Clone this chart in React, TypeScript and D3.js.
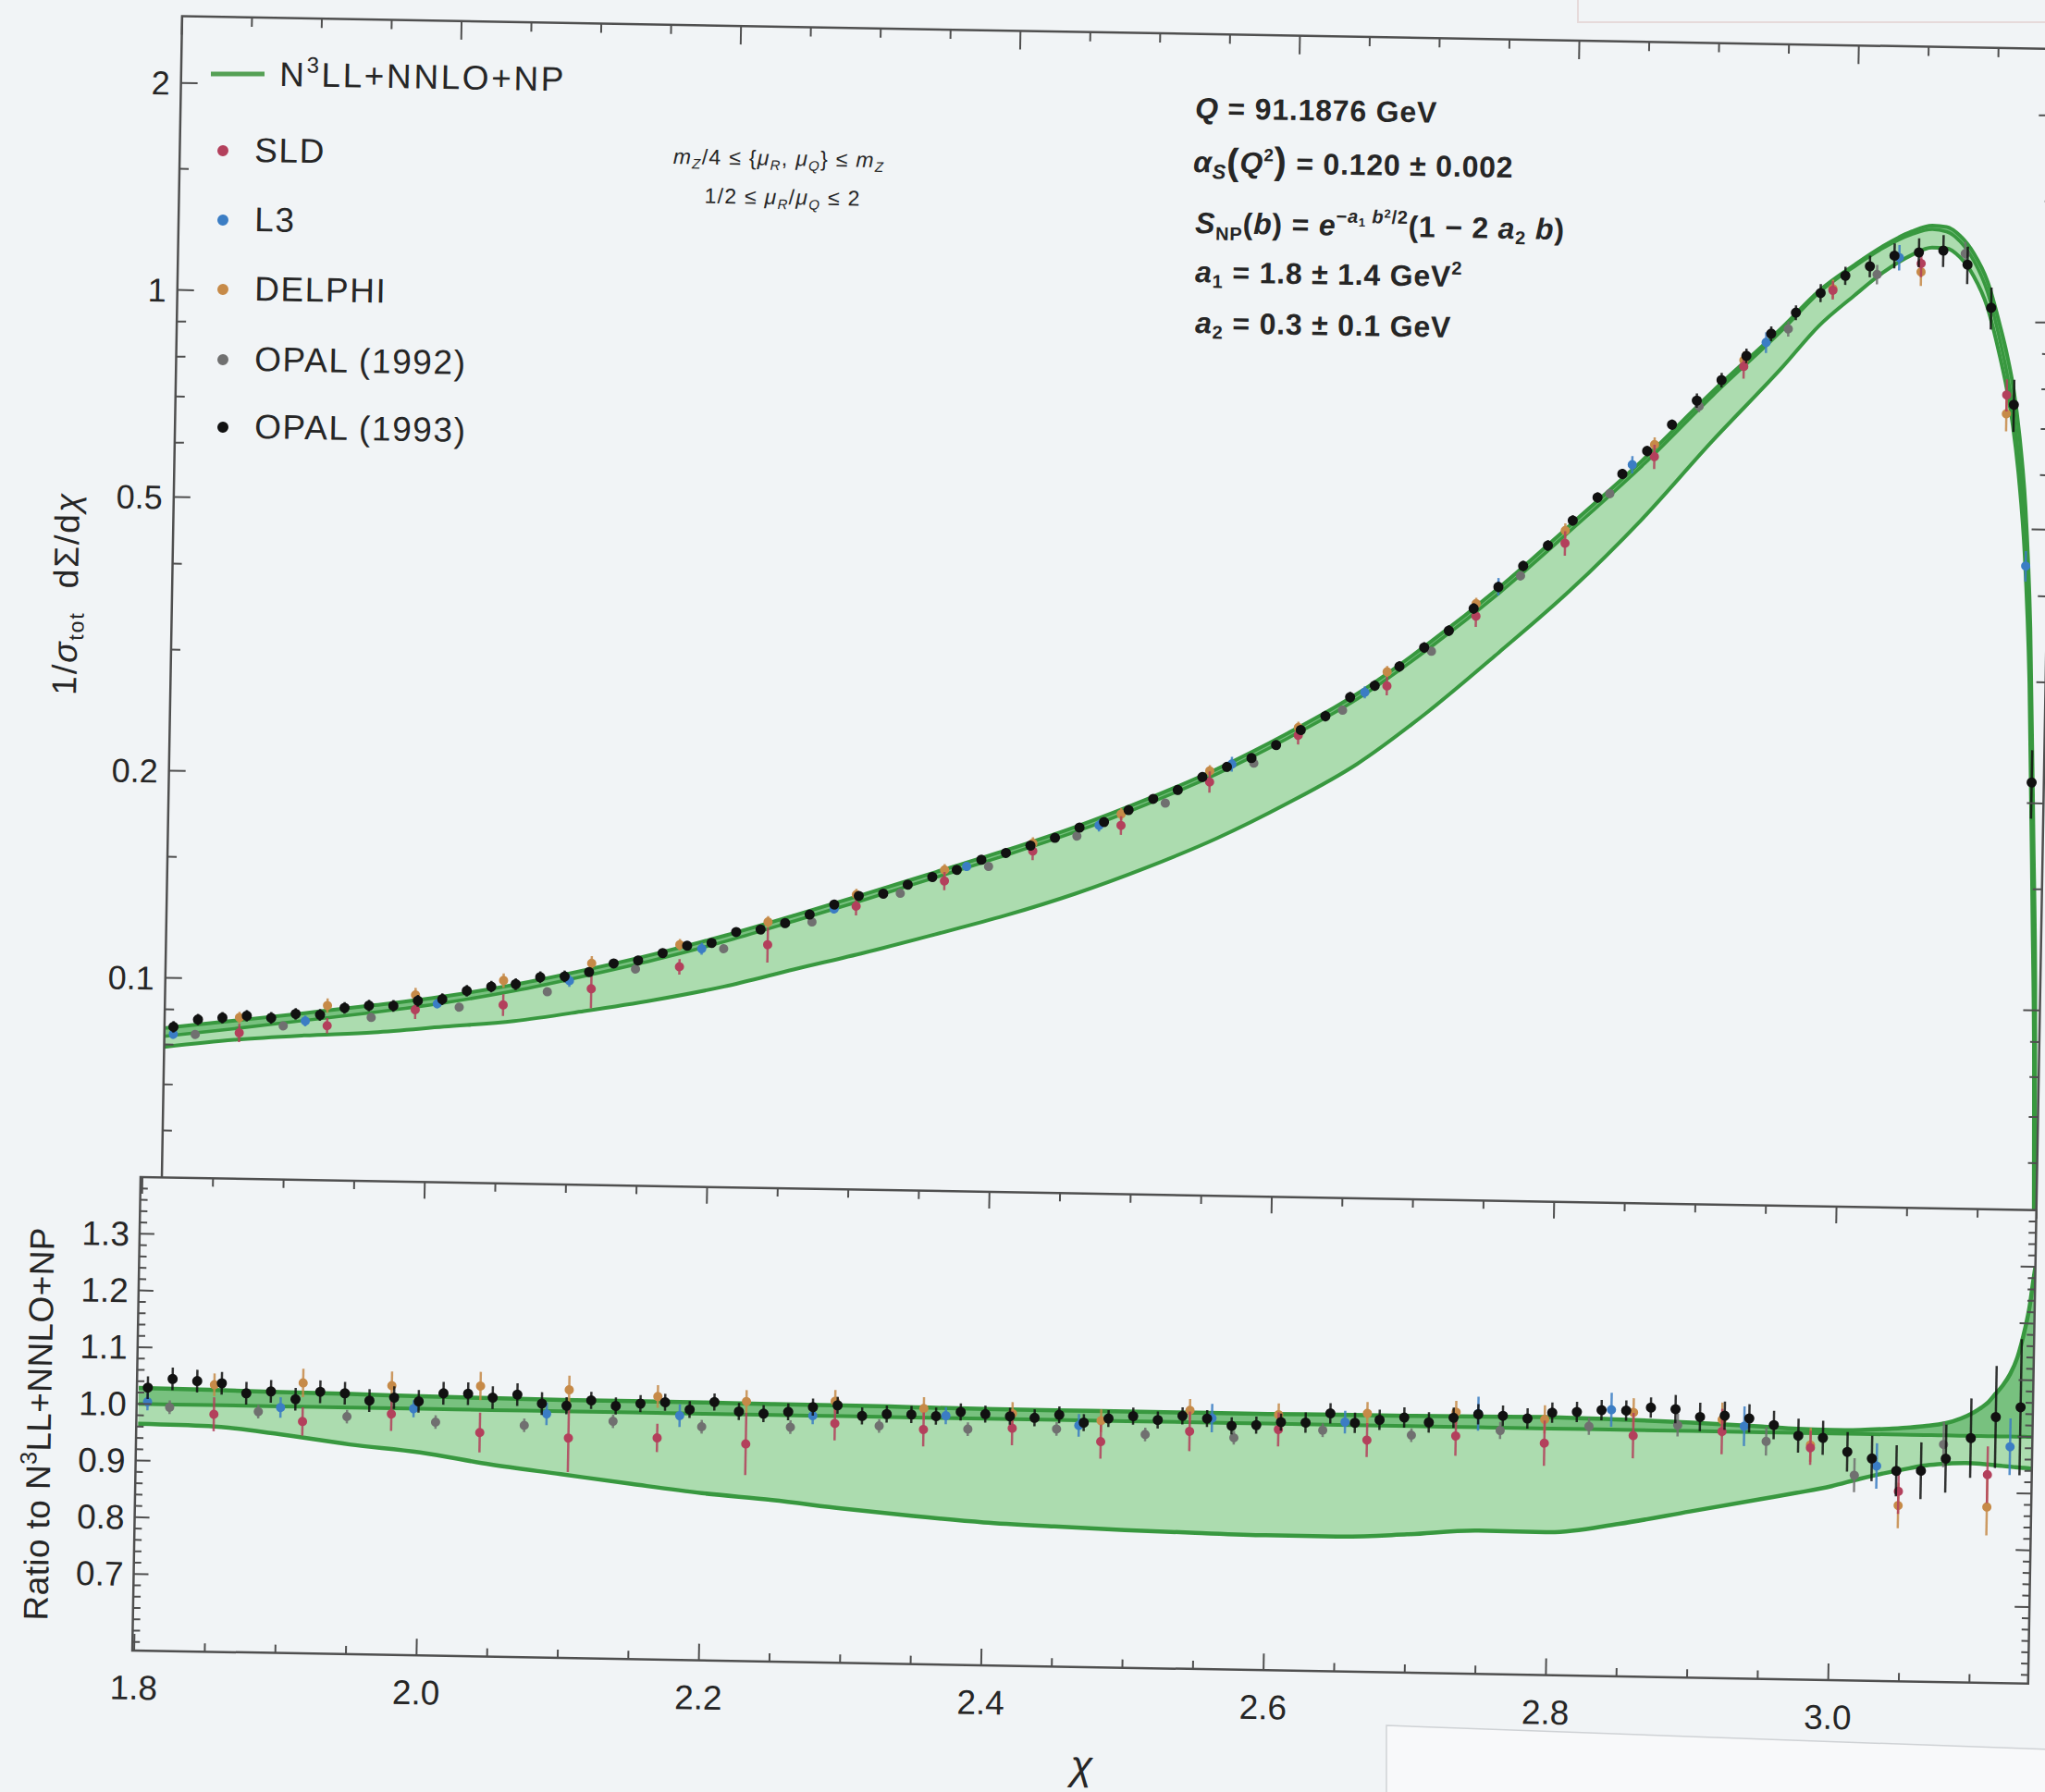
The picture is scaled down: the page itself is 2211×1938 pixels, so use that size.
import React from 'react';
import * as d3 from 'd3';

const W = 2211;
const H = 1938;
const BG = '#f1f4f6';
const INK = '#262626';
const FRAME = '#4f4f4f';
const GREEN_LINE = '#38983f';
const GREEN_FILL = '#acdcaf';
const GREEN_DARK = '#78c17f';
const FONT = '"Liberation Sans", Arial, Helvetica, sans-serif';

// the scanned page is tilted a little, everything is drawn straight then turned
const PIVOT_X = 152;
const PIVOT_Y = 1273;
const TILT = 1.0;

const TOP = { left: 175, right: 2202, top: 17, bottom: 1281 };
const BOT = { left: 152, right: 2202, top: 1273, bottom: 1785 };

// theory curve nodes (chi in rad)
const chiNodes = [1.80, 1.85, 1.90, 1.95, 2.00, 2.05, 2.10, 2.15, 2.20, 2.25, 2.30, 2.35, 2.40, 2.45, 2.50,
  2.55, 2.60, 2.65, 2.70, 2.75, 2.80, 2.85, 2.90, 2.95, 2.975, 3.00, 3.02, 3.04, 3.055, 3.065, 3.075,
  3.085, 3.095, 3.105, 3.11, 3.115, 3.12, 3.125, 3.13, 3.135, 3.138, 3.1405, 3.1416];

// central N3LL+NNLO+NP, 1/sigma dSigma/dchi
const centralTheory = [0.0822, 0.0847, 0.0874, 0.0902, 0.0935, 0.0977, 0.1031, 0.1093, 0.1167, 0.1256,
  0.1354, 0.1464, 0.1583, 0.1721, 0.1893, 0.2104, 0.2380, 0.2731, 0.3242, 0.3925, 0.4853, 0.6041,
  0.7685, 0.9653, 1.092, 1.194, 1.271, 1.332, 1.357, 1.348, 1.305, 1.224, 1.106, 0.933, 0.844,
  0.744, 0.624, 0.486, 0.316, 0.147, 0.089, 0.043, 0.030];

// band edges as ratio to the central curve
const ratioUpper = [1.028, 1.027, 1.025, 1.024, 1.022, 1.021, 1.020, 1.020, 1.020, 1.019, 1.019, 1.018,
  1.017, 1.017, 1.017, 1.017, 1.017, 1.018, 1.018, 1.019, 1.020, 1.018, 1.015, 1.010, 1.007, 1.006,
  1.007, 1.010, 1.013, 1.016, 1.019, 1.025, 1.035, 1.050, 1.060, 1.075, 1.090, 1.110, 1.140, 1.190,
  1.230, 1.280, 1.300];
const ratioLower = [0.965, 0.963, 0.951, 0.935, 0.923, 0.904, 0.889, 0.874, 0.860, 0.850, 0.837, 0.826,
  0.817, 0.812, 0.808, 0.805, 0.803, 0.803, 0.809, 0.818, 0.817, 0.834, 0.858, 0.882, 0.894, 0.907,
  0.921, 0.933, 0.941, 0.946, 0.949, 0.951, 0.952, 0.951, 0.950, 0.949, 0.948, 0.947, 0.946, 0.945,
  0.945, 0.944, 0.944];
const ratioCentral = 1.0;

// data, bin centres in degrees, values as ratio to central theory
const opal93Deg = [103.5, 104.5, 105.5, 106.5, 107.5, 108.5, 109.5, 110.5, 111.5, 112.5, 113.5, 114.5,
  115.5, 116.5, 117.5, 118.5, 119.5, 120.5, 121.5, 122.5, 123.5, 124.5, 125.5, 126.5, 127.5, 128.5,
  129.5, 130.5, 131.5, 132.5, 133.5, 134.5, 135.5, 136.5, 137.5, 138.5, 139.5, 140.5, 141.5, 142.5,
  143.5, 144.5, 145.5, 146.5, 147.5, 148.5, 149.5, 150.5, 151.5, 152.5, 153.5, 154.5, 155.5, 156.5,
  157.5, 158.5, 159.5, 160.5, 161.5, 162.5, 163.5, 164.5, 165.5, 166.5, 167.5, 168.5, 169.5, 170.5,
  171.5, 172.5, 173.5, 174.5, 175.5, 176.5, 177.5, 178.5, 179.5];
const opal93Ratio = [1.029, 1.045, 1.042, 1.039, 1.022, 1.026, 1.013, 1.027, 1.025, 1.013, 1.019, 1.013,
  1.028, 1.028, 1.022, 1.028, 1.013, 1.010, 1.020, 1.011, 1.016, 1.019, 1.007, 1.021, 1.005, 1.002,
  1.006, 1.015, 1.019, 1.001, 1.005, 1.005, 1.003, 1.011, 1.008, 1.005, 1.003, 1.009, 0.996, 1.004,
  1.009, 1.003, 1.011, 1.007, 0.995, 0.997, 1.003, 1.003, 1.020, 1.004, 1.010, 1.015, 1.007, 1.016,
  1.023, 1.021, 1.017, 1.028, 1.030, 1.034, 1.034, 1.040, 1.038, 1.025, 1.028, 1.024, 1.013, 0.995,
  0.992, 0.968, 0.957, 0.936, 0.937, 0.959, 0.996, 1.034, 1.052];
const opal93Err = [0.02, 0.02, 0.02, 0.02, 0.02, 0.02, 0.02, 0.02, 0.02, 0.02, 0.02, 0.02, 0.02, 0.02,
  0.02, 0.02, 0.02, 0.015, 0.015, 0.015, 0.015, 0.015, 0.015, 0.015, 0.015, 0.015, 0.015, 0.015, 0.015,
  0.015, 0.015, 0.015, 0.015, 0.015, 0.015, 0.015, 0.015, 0.015, 0.015, 0.015, 0.015, 0.015, 0.015,
  0.015, 0.015, 0.015, 0.015, 0.018, 0.018, 0.018, 0.018, 0.018, 0.018, 0.018, 0.018, 0.018, 0.018,
  0.018, 0.018, 0.018, 0.018, 0.018, 0.025, 0.025, 0.025, 0.025, 0.025, 0.03, 0.03, 0.035, 0.04,
  0.045, 0.05, 0.06, 0.07, 0.09, 0.12];

const opal92Deg = [104.4, 108.0, 111.6, 115.2, 118.8, 122.4, 126.0, 129.6, 133.2, 136.8, 140.4, 144.0,
  147.6, 151.2, 154.8, 158.4, 162.0, 165.6, 169.2, 172.8, 176.4];
const opal92Ratio = [0.995, 0.990, 0.984, 0.977, 0.974, 0.984, 0.977, 0.979, 0.984, 0.981, 0.984, 0.977,
  0.974, 0.990, 0.984, 0.995, 1.005, 1.010, 0.984, 0.927, 0.984];
const opal92Err = [0.012, 0.012, 0.012, 0.012, 0.012, 0.012, 0.012, 0.012, 0.012, 0.012, 0.012, 0.012,
  0.012, 0.012, 0.012, 0.015, 0.015, 0.02, 0.025, 0.03, 0.04];

const sldDeg = [106.2, 109.8, 113.4, 117.0, 120.6, 124.2, 127.8, 131.4, 135.0, 138.6, 142.2, 145.8,
  149.4, 153.0, 156.6, 160.2, 163.8, 167.4, 171.0, 174.6, 178.2];
const sldRatio = [0.984, 0.974, 0.990, 0.960, 0.953, 0.956, 0.948, 0.987, 0.979, 0.984, 0.963, 0.984,
  0.990, 0.974, 0.984, 0.974, 0.990, 1.000, 0.974, 0.900, 0.932];
const sldErr = [0.03, 0.025, 0.03, 0.035, 0.06, 0.025, 0.055, 0.03, 0.03, 0.03, 0.03, 0.035, 0.03, 0.03,
  0.035, 0.04, 0.04, 0.04, 0.03, 0.04, 0.05];

const delphiDeg = sldDeg;
const delphiRatio = [1.036, 1.042, 1.040, 1.042, 1.038, 1.029, 1.023, 1.026, 1.016, 1.010, 1.000, 1.021,
  1.016, 1.021, 1.026, 1.016, 1.031, 1.021, 0.979, 0.875, 0.875];
const delphiErr = [0.02, 0.025, 0.025, 0.025, 0.025, 0.02, 0.02, 0.02, 0.02, 0.02, 0.02, 0.02, 0.02, 0.02,
  0.02, 0.025, 0.025, 0.03, 0.03, 0.04, 0.05];

const l3Deg = [103.5, 108.9, 114.3, 119.7, 125.1, 130.5, 135.9, 141.3, 146.7, 152.1, 157.5, 162.9, 168.3,
  173.7, 179.1];
const l3Ratio = [1.004, 0.998, 1.000, 0.995, 0.996, 1.000, 1.004, 0.991, 1.008, 1.005, 1.024, 1.035, 1.010,
  0.944, 0.982];
const l3Err = [0.015, 0.018, 0.015, 0.02, 0.02, 0.015, 0.015, 0.02, 0.025, 0.02, 0.03, 0.03, 0.035, 0.04, 0.05];

const series = [
  { name: 'OPAL (1992)', color: '#707070', deg: opal92Deg, ratio: opal92Ratio, err: opal92Err, r: 5 },
  { name: 'L3', color: '#3b7dc4', deg: l3Deg, ratio: l3Ratio, err: l3Err, r: 5 },
  { name: 'DELPHI', color: '#c68a48', deg: delphiDeg, ratio: delphiRatio, err: delphiErr, r: 5 },
  { name: 'SLD', color: '#b3405c', deg: sldDeg, ratio: sldRatio, err: sldErr, r: 5 },
  { name: 'OPAL (1993)', color: '#111111', deg: opal93Deg, ratio: opal93Ratio, err: opal93Err, r: 5.5 },
];
const legendOrder = ['SLD', 'L3', 'DELPHI', 'OPAL (1992)', 'OPAL (1993)'];

const xMajor = [1.8, 2.0, 2.2, 2.4, 2.6, 2.8, 3.0];
const xMajorLabels = ['1.8', '2.0', '2.2', '2.4', '2.6', '2.8', '3.0'];
const topYMajor = [0.1, 0.2, 0.5, 1, 2];
const topYLabels = ['0.1', '0.2', '0.5', '1', '2'];
const topYMinor = [0.06, 0.07, 0.08, 0.09, 0.15, 0.3, 0.4, 0.6, 0.7, 0.8, 0.9, 1.5];
const ratioMajor = [0.7, 0.8, 0.9, 1.0, 1.1, 1.2, 1.3];
const ratioLabels = ['0.7', '0.8', '0.9', '1.0', '1.1', '1.2', '1.3'];

const tiltRad = (TILT * Math.PI) / 180;
const cosT = Math.cos(tiltRad);
const sinT = Math.sin(tiltRad);
// screen position -> position inside the tilted group
const unrot = (x: number, y: number): [number, number] => {
  const dx = x - PIVOT_X;
  const dy = y - PIVOT_Y;
  return [PIVOT_X + dx * cosT + dy * sinT, PIVOT_Y - dx * sinT + dy * cosT];
};
const rad = (d: number) => (d * Math.PI) / 180;

function centralAt(chi: number) {
  let i = d3.bisectRight(chiNodes, chi) - 1;
  i = Math.max(0, Math.min(chiNodes.length - 2, i));
  const t = (chi - chiNodes[i]) / (chiNodes[i + 1] - chiNodes[i]);
  return Math.exp(Math.log(centralTheory[i]) * (1 - t) + Math.log(centralTheory[i + 1]) * t);
}

function At({ x, y, children, ...rest }: any) {
  const [ux, uy] = unrot(x, y);
  return (
    <text x={ux} y={uy} fontFamily={FONT} fill={INK} {...rest}>
      {children}
    </text>
  );
}

export default function App() {
  const xTop = d3.scaleLinear().domain([1.8, Math.PI]).range([TOP.left, TOP.right]);
  const yTop = d3.scaleLog().domain([0.05, 2.5]).range([TOP.bottom, TOP.top]);
  const xBot = d3.scaleLinear().domain([1.8, Math.PI]).range([BOT.left + 2, BOT.right]);
  const yBot = d3.scaleLinear().domain([0.565, 1.4]).range([BOT.bottom, BOT.top]);

  const idx = d3.range(chiNodes.length);
  const topUp = (i: number) => yTop(centralTheory[i] * ratioUpper[i]);
  const topLo = (i: number) => yTop(centralTheory[i] * ratioLower[i]);
  const topMid = (i: number) => yTop(centralTheory[i] * ratioCentral);

  const topBand = d3.area<number>().x((i) => xTop(chiNodes[i])).y0(topLo).y1(topUp).curve(d3.curveMonotoneX)(idx);
  const topNarrow = d3.area<number>().x((i) => xTop(chiNodes[i])).y0(topMid).y1(topUp).curve(d3.curveMonotoneX)(idx);
  const topLine = (f: (i: number) => number) =>
    d3.line<number>().x((i) => xTop(chiNodes[i])).y(f).curve(d3.curveMonotoneX)(idx) || '';

  const rUp = (i: number) => yBot(ratioUpper[i]);
  const rLo = (i: number) => yBot(ratioLower[i]);
  const rMid = () => yBot(ratioCentral);
  const botBand = d3.area<number>().x((i) => xBot(chiNodes[i])).y0(rLo).y1(rUp).curve(d3.curveMonotoneX)(idx);
  const botNarrow = d3.area<number>().x((i) => xBot(chiNodes[i])).y0(rMid).y1(rUp).curve(d3.curveMonotoneX)(idx);
  const botLine = (f: (i: number) => number) =>
    d3.line<number>().x((i) => xBot(chiNodes[i])).y(f).curve(d3.curveMonotoneX)(idx) || '';

  const xMinor = d3.range(1.8, 3.13, 0.05).filter((v) => !xMajor.some((m) => Math.abs(m - v) < 1e-6));
  const ratioMinor = d3.range(0.58, 1.39, 0.02).filter((v) => !ratioMajor.some((m) => Math.abs(m - v) < 1e-6));

  const tickStyle = { stroke: FRAME, strokeWidth: 2 };

  return (
    <svg width={W} height={H} style={{ position: 'absolute', left: 0, top: 0, display: 'block' }}>
      <defs>
        <clipPath id="clipTop">
          <rect x={TOP.left} y={TOP.top} width={TOP.right - TOP.left} height={TOP.bottom - TOP.top} />
        </clipPath>
        <clipPath id="clipBot">
          <rect x={BOT.left} y={BOT.top} width={BOT.right - BOT.left} height={BOT.bottom - BOT.top} />
        </clipPath>
      </defs>
      <rect x={0} y={0} width={W} height={H} fill={BG} />
      {/* faint paper edges from the scan */}
      <rect x={1706} y={-2} width={520} height={26} fill="none" stroke="#e6dada" strokeWidth={2} />
      <polygon points="1499,1866 2215,1892 2215,1942 1499,1942" fill="#f8f9fa" stroke="#cfd2d5" strokeWidth={1.5} />

      <g transform={`rotate(${TILT} ${PIVOT_X} ${PIVOT_Y})`}>
        {/* upper panel */}
        <g clipPath="url(#clipTop)">
          <path d={topBand || ''} fill={GREEN_FILL} />
          <path d={topNarrow || ''} fill={GREEN_DARK} />
          <path d={topLine(topUp)} fill="none" stroke={GREEN_LINE} strokeWidth={4} />
          <path d={topLine(topMid)} fill="none" stroke={GREEN_LINE} strokeWidth={3.5} />
          <path d={topLine(topLo)} fill="none" stroke={GREEN_LINE} strokeWidth={4} />
          {series.map((s) => (
            <g key={'t' + s.name}>
              {s.deg.map((d, k) => {
                const chi = rad(d);
                const c = centralAt(chi);
                const x = xTop(chi);
                return (
                  <g key={k}>
                    <line x1={x} x2={x} y1={yTop((s.ratio[k] - s.err[k]) * c)} y2={yTop((s.ratio[k] + s.err[k]) * c)}
                      stroke={s.color} strokeWidth={2.5} opacity={0.85} />
                    <circle cx={x} cy={yTop(s.ratio[k] * c)} r={s.r} fill={s.color} />
                  </g>
                );
              })}
            </g>
          ))}
        </g>
        <rect x={TOP.left} y={TOP.top} width={TOP.right - TOP.left} height={TOP.bottom - TOP.top}
          fill="none" stroke={FRAME} strokeWidth={2.5} />
        {xMajor.map((v) => (
          <line key={'txM' + v} x1={xTop(v)} x2={xTop(v)} y1={TOP.top} y2={TOP.top + 20} {...tickStyle} />
        ))}
        {xMinor.map((v) => (
          <line key={'txm' + v} x1={xTop(v)} x2={xTop(v)} y1={TOP.top} y2={TOP.top + 10} {...tickStyle} />
        ))}
        {topYMajor.map((v, i) => (
          <g key={'tyM' + v}>
            <line x1={TOP.left} x2={TOP.left + 18} y1={yTop(v)} y2={yTop(v)} {...tickStyle} />
            <line x1={TOP.right} x2={TOP.right - 18} y1={yTop(v)} y2={yTop(v)} {...tickStyle} />
            <text x={TOP.left - 12} y={yTop(v) + 13} textAnchor="end" fontFamily={FONT} fontSize={36} fill={INK}>
              {topYLabels[i]}
            </text>
          </g>
        ))}
        {topYMinor.map((v) => (
          <g key={'tym' + v}>
            <line x1={TOP.left} x2={TOP.left + 10} y1={yTop(v)} y2={yTop(v)} {...tickStyle} />
            <line x1={TOP.right} x2={TOP.right - 10} y1={yTop(v)} y2={yTop(v)} {...tickStyle} />
          </g>
        ))}

        {/* ratio panel */}
        <rect x={BOT.left} y={BOT.top} width={BOT.right - BOT.left} height={BOT.bottom - BOT.top} fill={BG} />
        <g clipPath="url(#clipBot)">
          <path d={botBand || ''} fill={GREEN_FILL} />
          <path d={botNarrow || ''} fill={GREEN_DARK} />
          <path d={botLine(rUp)} fill="none" stroke={GREEN_LINE} strokeWidth={4.5} />
          <path d={botLine(rMid)} fill="none" stroke={GREEN_LINE} strokeWidth={4} />
          <path d={botLine(rLo)} fill="none" stroke={GREEN_LINE} strokeWidth={4.5} />
          {series.map((s) => (
            <g key={'b' + s.name}>
              {s.deg.map((d, k) => {
                const x = xBot(rad(d));
                return (
                  <g key={k}>
                    <line x1={x} x2={x} y1={yBot(s.ratio[k] - s.err[k])} y2={yBot(s.ratio[k] + s.err[k])}
                      stroke={s.color} strokeWidth={2.5} opacity={0.85} />
                    <circle cx={x} cy={yBot(s.ratio[k])} r={s.r} fill={s.color} />
                  </g>
                );
              })}
            </g>
          ))}
        </g>
        <rect x={BOT.left} y={BOT.top} width={BOT.right - BOT.left} height={BOT.bottom - BOT.top}
          fill="none" stroke={FRAME} strokeWidth={2.5} />
        {xMajor.map((v, i) => (
          <g key={'bxM' + v}>
            <line x1={xBot(v)} x2={xBot(v)} y1={BOT.top} y2={BOT.top + 18} {...tickStyle} />
            <line x1={xBot(v)} x2={xBot(v)} y1={BOT.bottom} y2={BOT.bottom - 18} {...tickStyle} />
            <text x={xBot(v)} y={BOT.bottom + 53} textAnchor="middle" fontFamily={FONT} fontSize={37} fill={INK}>
              {xMajorLabels[i]}
            </text>
          </g>
        ))}
        {xMinor.map((v) => (
          <g key={'bxm' + v}>
            <line x1={xBot(v)} x2={xBot(v)} y1={BOT.top} y2={BOT.top + 9} {...tickStyle} />
            <line x1={xBot(v)} x2={xBot(v)} y1={BOT.bottom} y2={BOT.bottom - 9} {...tickStyle} />
          </g>
        ))}
        {ratioMajor.map((v, i) => (
          <g key={'byM' + v}>
            <line x1={BOT.left} x2={BOT.left + 16} y1={yBot(v)} y2={yBot(v)} {...tickStyle} />
            <line x1={BOT.right} x2={BOT.right - 16} y1={yBot(v)} y2={yBot(v)} {...tickStyle} />
            <text x={BOT.left - 11} y={yBot(v) + 13} textAnchor="end" fontFamily={FONT} fontSize={37} fill={INK}>
              {ratioLabels[i]}
            </text>
          </g>
        ))}
        {ratioMinor.map((v) => (
          <g key={'bym' + v}>
            <line x1={BOT.left} x2={BOT.left + 8} y1={yBot(v)} y2={yBot(v)} {...tickStyle} />
            <line x1={BOT.right} x2={BOT.right - 8} y1={yBot(v)} y2={yBot(v)} {...tickStyle} />
          </g>
        ))}

        {/* legend */}
        {(() => {
          const [a1, b1] = unrot(228, 80);
          const [a2, b2] = unrot(286, 80);
          return <line x1={a1} y1={b1} x2={a2} y2={b2} stroke="#55a055" strokeWidth={5} />;
        })()}
        <At x={302} y={93} fontSize={37} letterSpacing={2.6}>
          <tspan>N</tspan>
          <tspan fontSize={24} dy={-15}>3</tspan>
          <tspan dy={15}>LL+NNLO+NP</tspan>
        </At>
        {legendOrder.map((name, i) => {
          const s = series.find((q) => q.name === name)!;
          const base = [175, 250, 325, 401, 474][i];
          const [cx, cy] = unrot(241, base - 12);
          return (
            <g key={'lg' + name}>
              <circle cx={cx} cy={cy} r={6} fill={s.color} />
              <At x={275} y={base} fontSize={37} letterSpacing={1.6}>{name}</At>
            </g>
          );
        })}

        {/* scale variation note */}
        <At x={842} y={179} fontSize={23} textAnchor="middle" letterSpacing={1.3}>
          <tspan fontStyle="italic">m</tspan>
          <tspan fontSize={15} dy={5} fontStyle="italic">Z</tspan>
          <tspan dy={-5}>/4 ≤ {'{'}</tspan>
          <tspan fontStyle="italic">μ</tspan>
          <tspan fontSize={15} dy={5} fontStyle="italic">R</tspan>
          <tspan dy={-5}>, </tspan>
          <tspan fontStyle="italic">μ</tspan>
          <tspan fontSize={15} dy={5} fontStyle="italic">Q</tspan>
          <tspan dy={-5}>{'}'} ≤ </tspan>
          <tspan fontStyle="italic">m</tspan>
          <tspan fontSize={15} dy={5} fontStyle="italic">Z</tspan>
        </At>
        <At x={846} y={221} fontSize={23} textAnchor="middle" letterSpacing={1.3}>
          <tspan>1/2 ≤ </tspan>
          <tspan fontStyle="italic">μ</tspan>
          <tspan fontSize={15} dy={5} fontStyle="italic">R</tspan>
          <tspan dy={-5}>/</tspan>
          <tspan fontStyle="italic">μ</tspan>
          <tspan fontSize={15} dy={5} fontStyle="italic">Q</tspan>
          <tspan dy={-5}> ≤ 2</tspan>
        </At>

        {/* fit parameters */}
        <At x={1292} y={128} fontSize={32} fontWeight={700} letterSpacing={0.8}>
          <tspan fontStyle="italic">Q</tspan>
          <tspan> = 91.1876 GeV</tspan>
        </At>
        <At x={1290} y={186} fontSize={32} fontWeight={700} letterSpacing={0.8}>
          <tspan fontStyle="italic">α</tspan>
          <tspan fontStyle="italic" fontSize={22} dy={7}>S</tspan>
          <tspan fontSize={40} dy={-5}>(</tspan>
          <tspan fontStyle="italic" dy={-2}>Q</tspan>
          <tspan fontSize={19} dy={-13}>2</tspan>
          <tspan fontSize={40} dy={13}>)</tspan>
          <tspan> = 0.120 ± 0.002</tspan>
        </At>
        <At x={1292} y={252} fontSize={32} fontWeight={700} letterSpacing={0.8}>
          <tspan fontStyle="italic">S</tspan>
          <tspan fontSize={20} dy={7}>NP</tspan>
          <tspan dy={-7}>(</tspan>
          <tspan fontStyle="italic">b</tspan>
          <tspan>) = </tspan>
          <tspan fontStyle="italic">e</tspan>
          <tspan fontSize={20} dy={-14}>−</tspan>
          <tspan fontSize={20} fontStyle="italic">a</tspan>
          <tspan fontSize={13} dy={4}>1</tspan>
          <tspan fontSize={20} fontStyle="italic" dy={-4}> b</tspan>
          <tspan fontSize={13} dy={-6}>2</tspan>
          <tspan fontSize={20} dy={6}>/2</tspan>
          <tspan dy={14}>(1 − 2 </tspan>
          <tspan fontStyle="italic">a</tspan>
          <tspan fontSize={20} dy={6}>2</tspan>
          <tspan fontStyle="italic" dy={-6}> b</tspan>
          <tspan>)</tspan>
        </At>
        <At x={1292} y={305} fontSize={32} fontWeight={700} letterSpacing={0.8}>
          <tspan fontStyle="italic">a</tspan>
          <tspan fontSize={20} dy={6}>1</tspan>
          <tspan dy={-6}> = 1.8 ± 1.4 GeV</tspan>
          <tspan fontSize={20} dy={-13}>2</tspan>
        </At>
        <At x={1292} y={360} fontSize={32} fontWeight={700} letterSpacing={0.8}>
          <tspan fontStyle="italic">a</tspan>
          <tspan fontSize={20} dy={6}>2</tspan>
          <tspan dy={-6}> = 0.3 ± 0.1 GeV</tspan>
        </At>

        {/* axis titles */}
        {(() => {
          const [ax, ay] = unrot(84, 642);
          return (
            <text transform={`translate(${ax},${ay}) rotate(-90)`} textAnchor="middle" fontFamily={FONT}
              fontSize={37} fill={INK} letterSpacing={2}>
              <tspan>1/</tspan>
              <tspan fontStyle="italic">σ</tspan>
              <tspan fontSize={23} dy={7}>tot</tspan>
              <tspan dy={-7}>{'\u00a0\u00a0'}dΣ/d</tspan>
              <tspan fontStyle="italic">χ</tspan>
            </text>
          );
        })()}
        {(() => {
          const [ax, ay] = unrot(55, 1540);
          return (
            <text transform={`translate(${ax},${ay}) rotate(-90)`} textAnchor="middle" fontFamily={FONT}
              fontSize={37} fill={INK} letterSpacing={0.4}>
              <tspan>Ratio to N</tspan>
              <tspan fontSize={25} dy={-15}>3</tspan>
              <tspan dy={15}>LL+NNLO+NP</tspan>
            </text>
          );
        })()}
        <At x={1169} y={1924} fontSize={44} fontStyle="italic" textAnchor="middle">χ</At>
      </g>
    </svg>
  );
}
